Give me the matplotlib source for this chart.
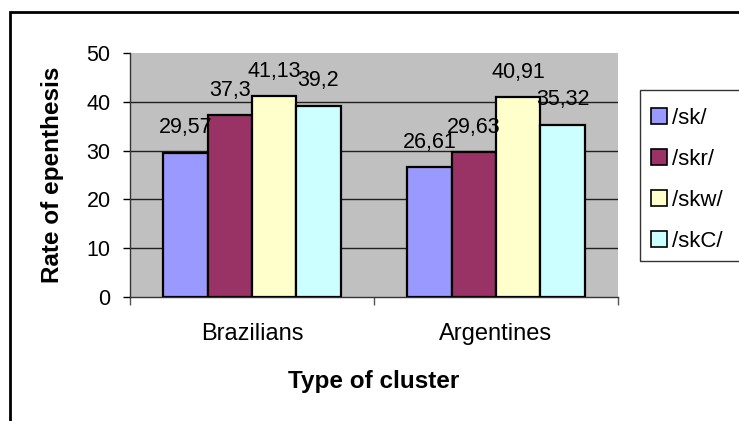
import matplotlib
matplotlib.use("Agg")
import matplotlib.pyplot as plt
from matplotlib.patches import Rectangle
from matplotlib.lines import Line2D
import numpy as np

plt.rcParams['font.family'] = ['Liberation Sans', 'DejaVu Sans']

groups = ["Brazilians", "Argentines"]
series = ["/sk/", "/skr/", "/skw/", "/skC/"]
sk = [29.57, 26.61]
skr = [37.3, 29.63]
skw = [41.13, 40.91]
skc = [39.2, 35.32]
values = [sk, skr, skw, skc]
colors = ["#9999FF", "#993366", "#FFFFCC", "#CCFFFF"]
yticks = [0, 10, 20, 30, 40, 50]

W, H = 739, 421
fig = plt.figure(figsize=(W / 100, H / 100), dpi=100)
ax = fig.add_axes([130 / W, 1 - 297 / H, (618 - 130) / W, (297 - 53) / H])
ax.set_facecolor("#C0C0C0")

x = np.arange(len(groups))
width = 1 / 5.5
for i, (vals, col) in enumerate(zip(values, colors)):
    pos = x + (i - 1.5) * width
    ax.bar(pos, vals, width, color=col, edgecolor="black", linewidth=1.6,
           zorder=3)
    for px, v in zip(pos, vals):
        ax.annotate(f"{v:g}".replace(".", ","), (px, v), xytext=(0, 14),
                    textcoords="offset points", ha="center", va="baseline",
                    fontsize=15.5, zorder=4)

ax.set_xlim(-0.5, len(groups) - 0.5)
ax.set_ylim(0, 50)
ax.set_yticks(yticks)
ax.set_yticklabels([str(t) for t in yticks], fontsize=15.5)
for t in yticks[1:-1]:
    ax.axhline(t, color="#202020", linewidth=1.0, zorder=1)

ax.set_xticks(x)
ax.set_xticklabels(groups, fontsize=17)
ax.set_xticks(np.arange(len(groups) + 1) - 0.5, minor=True)
ax.tick_params(axis="x", which="major", length=0, pad=19)
ax.tick_params(axis="x", which="minor", length=6, width=1, direction="out",
               color="#555555")
ax.tick_params(axis="y", length=5, width=1, direction="out", pad=9)

for s in ("top", "right"):
    ax.spines[s].set_visible(False)
for s in ("left", "bottom"):
    ax.spines[s].set_color("#333333")
    ax.spines[s].set_linewidth(1.0)

ax.set_ylabel("Rate of epenthesis", fontsize=17.5, fontweight="bold",
              labelpad=16)
ax.set_xlabel("Type of cluster", fontsize=17.5, fontweight="bold",
              labelpad=18)

# outer chart border
fig.patches.append(Rectangle((10 / W, -0.2), 1.2, 1 - 12 / H + 0.2,
                             transform=fig.transFigure, fill=False,
                             edgecolor="black", linewidth=2.0, zorder=0))

# legend frame and entries
fig.patches.append(Rectangle((640 / W, 1 - 261 / H), 0.3, (261 - 90) / H,
                             transform=fig.transFigure, fill=False,
                             edgecolor="#333333", linewidth=1.0, zorder=1))
handles = [Line2D([], [], marker="s", linestyle="", markersize=12,
                  markerfacecolor=c, markeredgecolor="black",
                  markeredgewidth=1.2) for c in colors]
fig.legend(handles, series, loc="upper left",
           bbox_to_anchor=(650 / W, 1 - 108 / H), frameon=False,
           fontsize=16, handlelength=0.8, handletextpad=0.2,
           labelspacing=0.9, borderpad=0.0, borderaxespad=0)

fig.savefig("out.png", dpi=100)
